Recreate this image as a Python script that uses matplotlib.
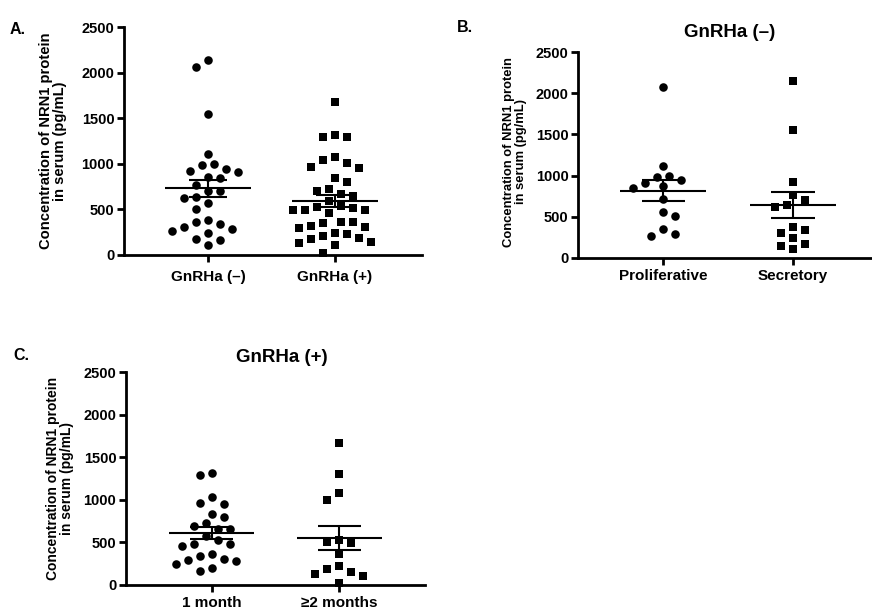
import numpy as np
import matplotlib
matplotlib.use('Agg')
import matplotlib.pyplot as plt

plt.rcParams['font.family'] = ['Liberation Sans', 'DejaVu Sans']
plt.rcParams['font.weight'] = 'bold'

# ---------------- data ----------------
yticks = [0, 500, 1000, 1500, 2000, 2500]
ylabel_text = 'Concentration of NRN1 protein\nin serum (pg/mL)'

a_labels = ['GnRHa (–)', 'GnRHa (+)']
a_neg = [2141, 2061, 1548, 1109, 988, 999, 922, 842, 860, 911, 944, 769, 703, 703,
         622, 640, 567, 508, 384, 340, 285, 366, 267, 238, 304, 176, 165, 106]
a_pos = [1677, 1299, 1299, 1318, 1079, 959, 1007, 1043, 963, 842, 805, 725, 666, 706,
         648, 593, 494, 494, 530, 512, 538, 464, 494, 318, 300, 366, 348, 366, 231,
         135, 172, 183, 110, 209, 146, 245, 304, 19]

b_title = 'GnRHa (–)'
b_labels = ['Proliferative', 'Secretory']
b_prolif = [2075, 1113, 987, 995, 913, 946, 873, 853, 711, 560, 512, 350, 268, 285]
b_secr = [2152, 1555, 918, 703, 764, 621, 642, 337, 297, 370, 236, 167, 102, 146]

c_title = 'GnRHa (+)'
c_labels = ['1 month', '≥2 months']
c_1m = [1312, 1292, 1038, 952, 960, 834, 803, 725, 654, 697, 662, 580, 529, 482,
        458, 482, 364, 341, 294, 243, 286, 309, 168, 204]
c_2m = [1672, 1301, 1078, 999, 500, 532, 488, 364, 226, 129, 106, 185, 151, 20]

# ---------------- figure ----------------
W, H = 872, 610
fig = plt.figure(figsize=(W / 100, H / 100), dpi=100)


def add_axes_px(left, right, top, bottom):
    return fig.add_axes([left / W, 1 - bottom / H, (right - left) / W, (bottom - top) / H])


def style(ax, xlim, labels, ylabel_fs, label_x, label_y, xpad=3):
    ax.set_xlim(*xlim)
    ax.set_ylim(0, 2500)
    ax.set_facecolor('none')
    for sp in ['top', 'right']:
        ax.spines[sp].set_visible(False)
    for sp in ['left', 'bottom']:
        ax.spines[sp].set_linewidth(2)
    ax.set_yticks(yticks)
    ax.set_yticklabels([str(t) for t in yticks])
    ax.set_xticks([0, 1])
    ax.set_xticklabels(labels)
    ax.tick_params(axis='y', length=5, width=2, labelsize=10.5, pad=2)
    ax.tick_params(axis='x', length=5, width=2, labelsize=11, pad=xpad)
    ax.set_ylabel(ylabel_text, fontsize=ylabel_fs, fontweight='bold', linespacing=1.0)
    ax.yaxis.set_label_coords(label_x, label_y)


def swarm(ax, xc, vals, diam=11.0, step=6.0):
    vals = np.asarray(vals, float)
    pts = ax.transData.transform(np.column_stack([np.full(len(vals), xc), vals]))
    ypx = pts[:, 1]
    ppu = ax.transData.transform([(xc + 1, 0)])[0, 0] - ax.transData.transform([(xc, 0)])[0, 0]
    order = np.argsort(-vals)
    placed = []
    offs = np.zeros(len(vals))
    for n, i in enumerate(order):
        y = ypx[i]
        cands = [0.0]
        for k in range(1, 40):
            if n % 2 == 0:
                cands += [k * step, -k * step]
            else:
                cands += [-k * step, k * step]
        for c in cands:
            if all((c - px) ** 2 + (y - py) ** 2 >= diam ** 2 for px, py in placed):
                break
        placed.append((c, y))
        offs[i] = c / ppu
    return xc + offs


def group(ax, xc, vals, marker, mean_hw, cap_hw):
    xs = swarm(ax, xc, vals)
    ax.scatter(xs, vals, s=38, marker=marker, color='black', linewidths=0,
               zorder=3, clip_on=False)
    v = np.asarray(vals, float)
    m = v.mean()
    se = v.std(ddof=1) / np.sqrt(len(v))
    ax.hlines(m, xc - mean_hw, xc + mean_hw, color='black', lw=1.5, zorder=4)
    ax.hlines([m - se, m + se], xc - cap_hw, xc + cap_hw, color='black', lw=1.5, zorder=4)
    ax.vlines(xc, m - se, m + se, color='black', lw=1.5, zorder=4)


# Panel A
axA = add_axes_px(124, 422, 27.3, 255)
style(axA, (-0.661, 1.685), a_labels, 10.6, -0.19, 0.5, xpad=6)
group(axA, 0, a_neg, 'o', 0.34, 0.15)
group(axA, 1, a_pos, 's', 0.34, 0.15)

# Panel B
axB = add_axes_px(578.3, 871, 52.3, 257.7)
style(axB, (-0.654, 1.6), b_labels, 9.4, -0.174, 0.516)
group(axB, 0, b_prolif, 'o', 0.33, 0.167)
group(axB, 1, b_secr, 's', 0.33, 0.167)
fig.text(730 / W, 1 - 32.5 / H, b_title, fontsize=13.5, fontweight='bold',
         ha='center', va='center')

# Panel C
axC = add_axes_px(126, 425, 372.3, 585)
style(axC, (-0.672, 1.672), c_labels, 10.0, -0.174, 0.5)
group(axC, 0, c_1m, 'o', 0.333, 0.17)
group(axC, 1, c_2m, 's', 0.333, 0.17)
fig.text(282 / W, 1 - 358 / H, c_title, fontsize=13.5, fontweight='bold',
         ha='center', va='center')

# panel letters
fig.text(10 / W, 1 - 29 / H, 'A.', fontsize=11.5, fontweight='bold', ha='left', va='center')
fig.text(457 / W, 1 - 27.5 / H, 'B.', fontsize=11.5, fontweight='bold', ha='left', va='center')
fig.text(13 / W, 1 - 356 / H, 'C.', fontsize=11.5, fontweight='bold', ha='left', va='center')

fig.savefig('out.png', dpi=100)
